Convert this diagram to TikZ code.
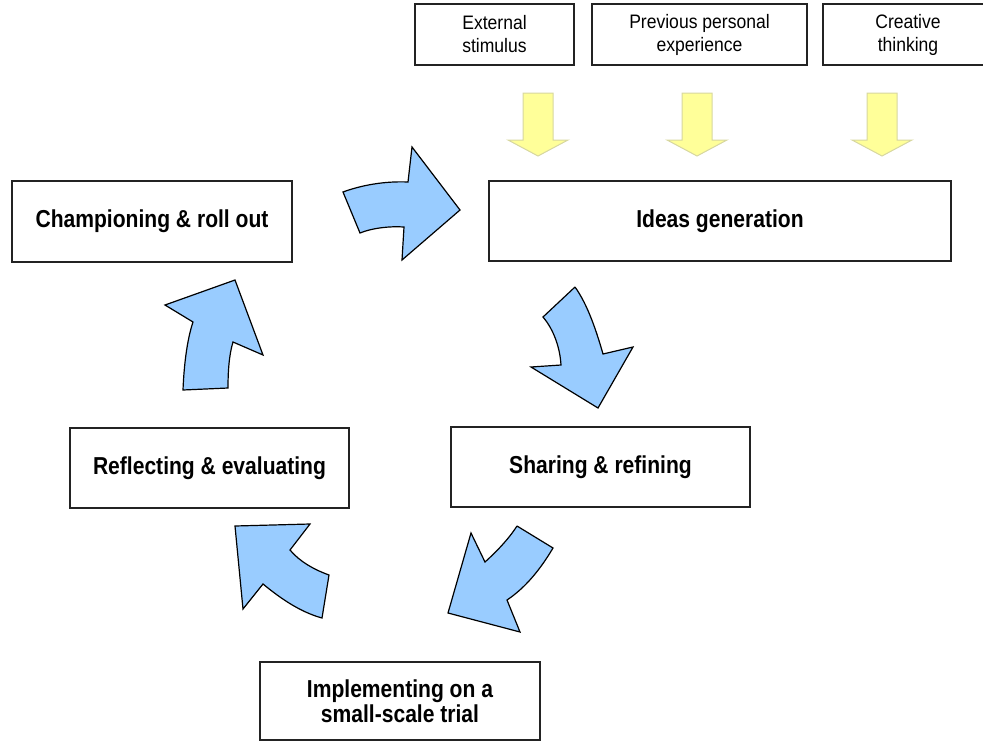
\documentclass[tikz,border=0pt]{standalone}
\usepackage{fontspec}
\setmainfont{Liberation Sans}
\newfontfamily\mainff[FakeStretch=0.86]{Liberation Sans}
\newfontfamily\srcff[FakeStretch=0.9]{Liberation Sans}
\definecolor{ablue}{RGB}{153,204,255}
\definecolor{ayellow}{RGB}{255,255,153}
\definecolor{yedge}{RGB}{215,215,160}
\definecolor{boxline}{RGB}{35,35,35}
\begin{document}
\begin{tikzpicture}[x=1pt,y=-1pt,
  mainbox/.style={draw=boxline,line width=1.7pt,fill=white,align=center,inner sep=0pt,
    font=\mainff\fontsize{24.5}{25}\selectfont\bfseries},
  srcbox/.style={draw=boxline,line width=1.5pt,fill=white,align=center,inner sep=0pt,
    minimum height=61pt,font=\srcff\fontsize{19.5}{23}\selectfont},
  bluearrow/.style={fill=ablue,draw=black,line width=1.2pt,line join=miter},
  yelarrow/.style={fill=ayellow,draw=yedge,line width=1pt}
]
\useasboundingbox (0,0) rectangle (983,742);

% source boxes
\node[srcbox,minimum width=159pt] (ext) at (494.5,34.5) {External\\stimulus};
\node[srcbox,minimum width=215pt] (prev) at (699.5,34.5) {Previous personal\\experience};
\node[srcbox,minimum width=170pt] (creat) at (908,34.5) {Creative\\thinking};

% yellow arrows
\foreach \cx/\nm in {538/ya, 697/yb, 882/yc}{
  \draw[yelarrow] (\cx-15,93) -- (\cx+15,93) -- (\cx+15,140) -- (\cx+30,140)
     -- (\cx,156) -- (\cx-30,140) -- (\cx-15,140) -- cycle;
}

% main boxes
\node[mainbox,minimum width=280pt,minimum height=81pt] (champ) at (152,221.5) {Championing \& roll out};
\node[mainbox,minimum width=462pt,minimum height=80pt] (ideas) at (720,221) {Ideas generation};
\node[mainbox,minimum width=299pt,minimum height=80pt] (share) at (600.5,467) {Sharing \& refining};
\node[mainbox,minimum width=279pt,minimum height=80pt] (refl) at (209.5,468) {Reflecting \& evaluating};
\node[mainbox,minimum width=280pt,minimum height=78pt] (impl) at (400,701) {Implementing on a\\small-scale trial};

% curved block arrows
% top: champ -> ideas
\draw[bluearrow] (343,192) .. controls (362,185) and (385,181) .. (408,182)
  -- (412,147) -- (460,210) -- (402,260) -- (404,227)
  .. controls (390,226) and (372,228) .. (360,233) -- cycle;
% ideas -> share
\draw[bluearrow] (575,287) -- (543,317) .. controls (554,330) and (560,348) .. (561,365)
  -- (531,367) -- (598,408) -- (633,347) -- (603,354)
  .. controls (597,333) and (588,305) .. (575,287);
% share -> impl
\draw[bluearrow] (517,526) -- (553,548) .. controls (540,570) and (525,588) .. (507,600)
  -- (520,632) -- (448,613) -- (471,533) -- (485,562)
  .. controls (495,553) and (508,540) .. (517,526);
% impl -> refl
\draw[bluearrow] (310,524) -- (235,526) -- (243,609) -- (263,584)
  .. controls (280,598) and (300,612) .. (322,618) -- (329,575)
  .. controls (315,570) and (300,562) .. (290,550) -- cycle;
% refl -> champ
\draw[bluearrow] (183,390) .. controls (184,365) and (187,340) .. (193,322)
  -- (165,305) -- (235,280) -- (263,355) -- (233,342)
  .. controls (229,355) and (228,372) .. (228,388) -- cycle;
\end{tikzpicture}
\end{document}
